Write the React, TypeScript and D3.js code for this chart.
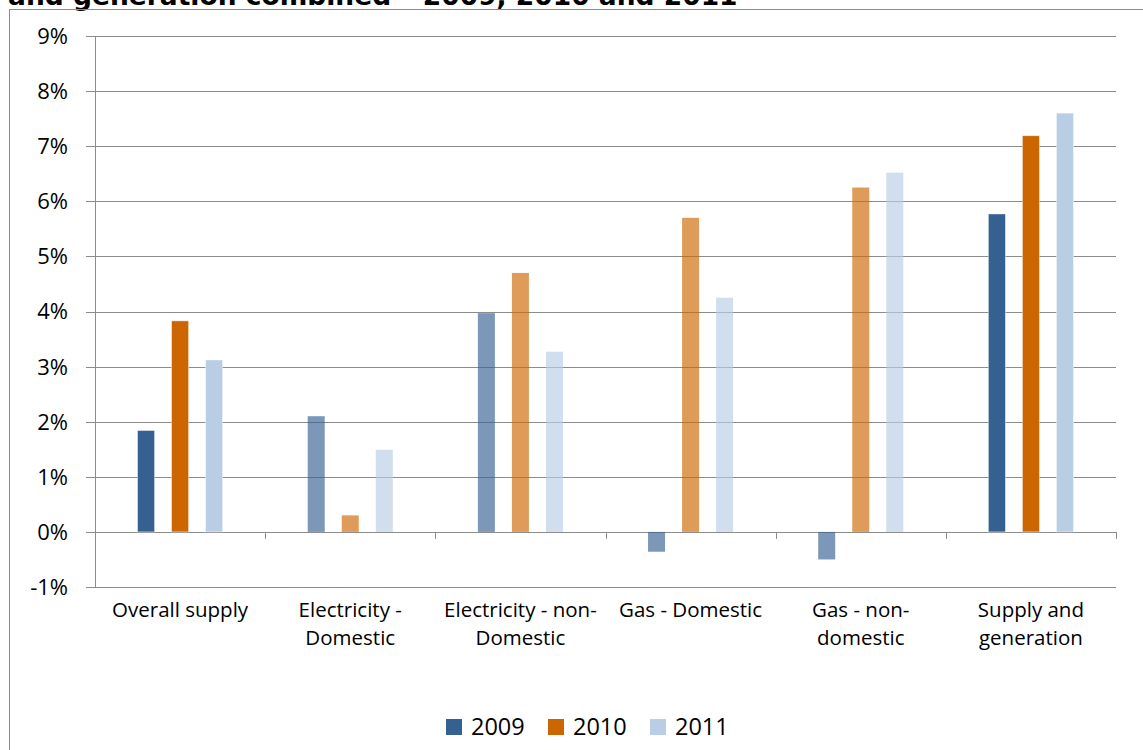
import React from "react";
import * as d3 from "d3";

const categories = [
  ["Overall supply"],
  ["Electricity -", "Domestic"],
  ["Electricity - non-", "Domestic"],
  ["Gas - Domestic"],
  ["Gas - non-", "domestic"],
  ["Supply and", "generation"],
];
const years = ["2009", "2010", "2011"];
const v2009 = [1.84, 2.1, 3.97, -0.36, -0.5, 5.77];
const v2010 = [3.83, 0.3, 4.7, 5.7, 6.25, 7.19];
const v2011 = [3.12, 1.49, 3.27, 4.25, 6.52, 7.6];
const faded = [false, true, true, true, true, false];
const yTicks = [-1, 0, 1, 2, 3, 4, 5, 6, 7, 8, 9];
const colors = ["#356092", "#CC6600", "#B9CDE5"];

const W = 1143;
const H = 750;
const plotL = 95;
const plotR = 1116;
const plotT = 36;
const plotB = 587;

export default function App() {
  const series = [v2009, v2010, v2011];
  const x = d3
    .scaleBand<number>()
    .domain(d3.range(categories.length))
    .range([plotL, plotR]);
  const bw = x.bandwidth() / 10;
  const y = d3.scaleLinear().domain([-1, 9]).range([plotB, plotT]);
  const font = "'Open Sans', Lato, sans-serif";

  return (
    <svg
      width={W}
      height={H}
      style={{ position: "absolute", left: 0, top: 0, background: "#fff" }}
    >
      <text
        x={8}
        y={5}
        fontFamily="'DejaVu Sans', sans-serif"
        fontWeight="bold"
        fontSize={26.5}
        fill="#000"
      >
        and generation combined – 2009, 2010 and 2011
      </text>
      <rect
        x={9.5}
        y={9.5}
        width={W + 10}
        height={H + 10}
        fill="none"
        stroke="#8c8c8c"
        strokeWidth={1}
      />
      {yTicks.map((t) => (
        <g key={t}>
          <line
            x1={86}
            x2={plotR}
            y1={Math.round(y(t)) + 0.5}
            y2={Math.round(y(t)) + 0.5}
            stroke="#8c8c8c"
            strokeWidth={1}
          />
          <text
            x={68}
            y={y(t)}
            dy="0.36em"
            textAnchor="end"
            fontFamily={font}
            fontSize={22}
            fill="#000"
          >
            {t}%
          </text>
        </g>
      ))}
      <line
        x1={plotL + 0.5}
        x2={plotL + 0.5}
        y1={plotT}
        y2={plotB}
        stroke="#8c8c8c"
      />
      {d3.range(categories.length + 1).map((i) => {
        const xx = Math.round(plotL + i * x.step()) + 0.5;
        return (
          <line
            key={i}
            x1={xx}
            x2={xx}
            y1={y(0)}
            y2={y(0) + 7}
            stroke="#8c8c8c"
          />
        );
      })}
      {categories.map((c, ci) => {
        const cx = (x(ci) as number) + x.bandwidth() / 2;
        return (
          <g key={ci}>
            {series.map((s, si) => {
              const v = s[ci];
              const bx = cx - bw / 2 + (si - 1) * 2 * bw;
              const y0 = y(0);
              const y1 = y(v);
              return (
                <rect
                  key={si}
                  x={bx}
                  y={Math.min(y0, y1)}
                  width={bw}
                  height={Math.abs(y1 - y0)}
                  fill={colors[si]}
                  fillOpacity={faded[ci] ? 0.65 : 1}
                  stroke={faded[ci] ? "none" : "rgba(255,255,255,0.5)"}
                  strokeWidth={0.8}
                />
              );
            })}
            {c.map((line, li) => (
              <text
                key={li}
                x={cx}
                y={617 + li * 28}
                textAnchor="middle"
                fontFamily={font}
                fontSize={20.5}
                fill="#000"
              >
                {line}
              </text>
            ))}
          </g>
        );
      })}
      {years.map((yr, i) => {
        const lx = 446 + i * 102;
        return (
          <g key={yr}>
            <rect x={lx} y={719} width={16} height={16} fill={colors[i]} />
            <text
              x={lx + 25}
              y={735}
              fontFamily={font}
              fontSize={23.5}
              fill="#000"
            >
              {yr}
            </text>
          </g>
        );
      })}
    </svg>
  );
}
